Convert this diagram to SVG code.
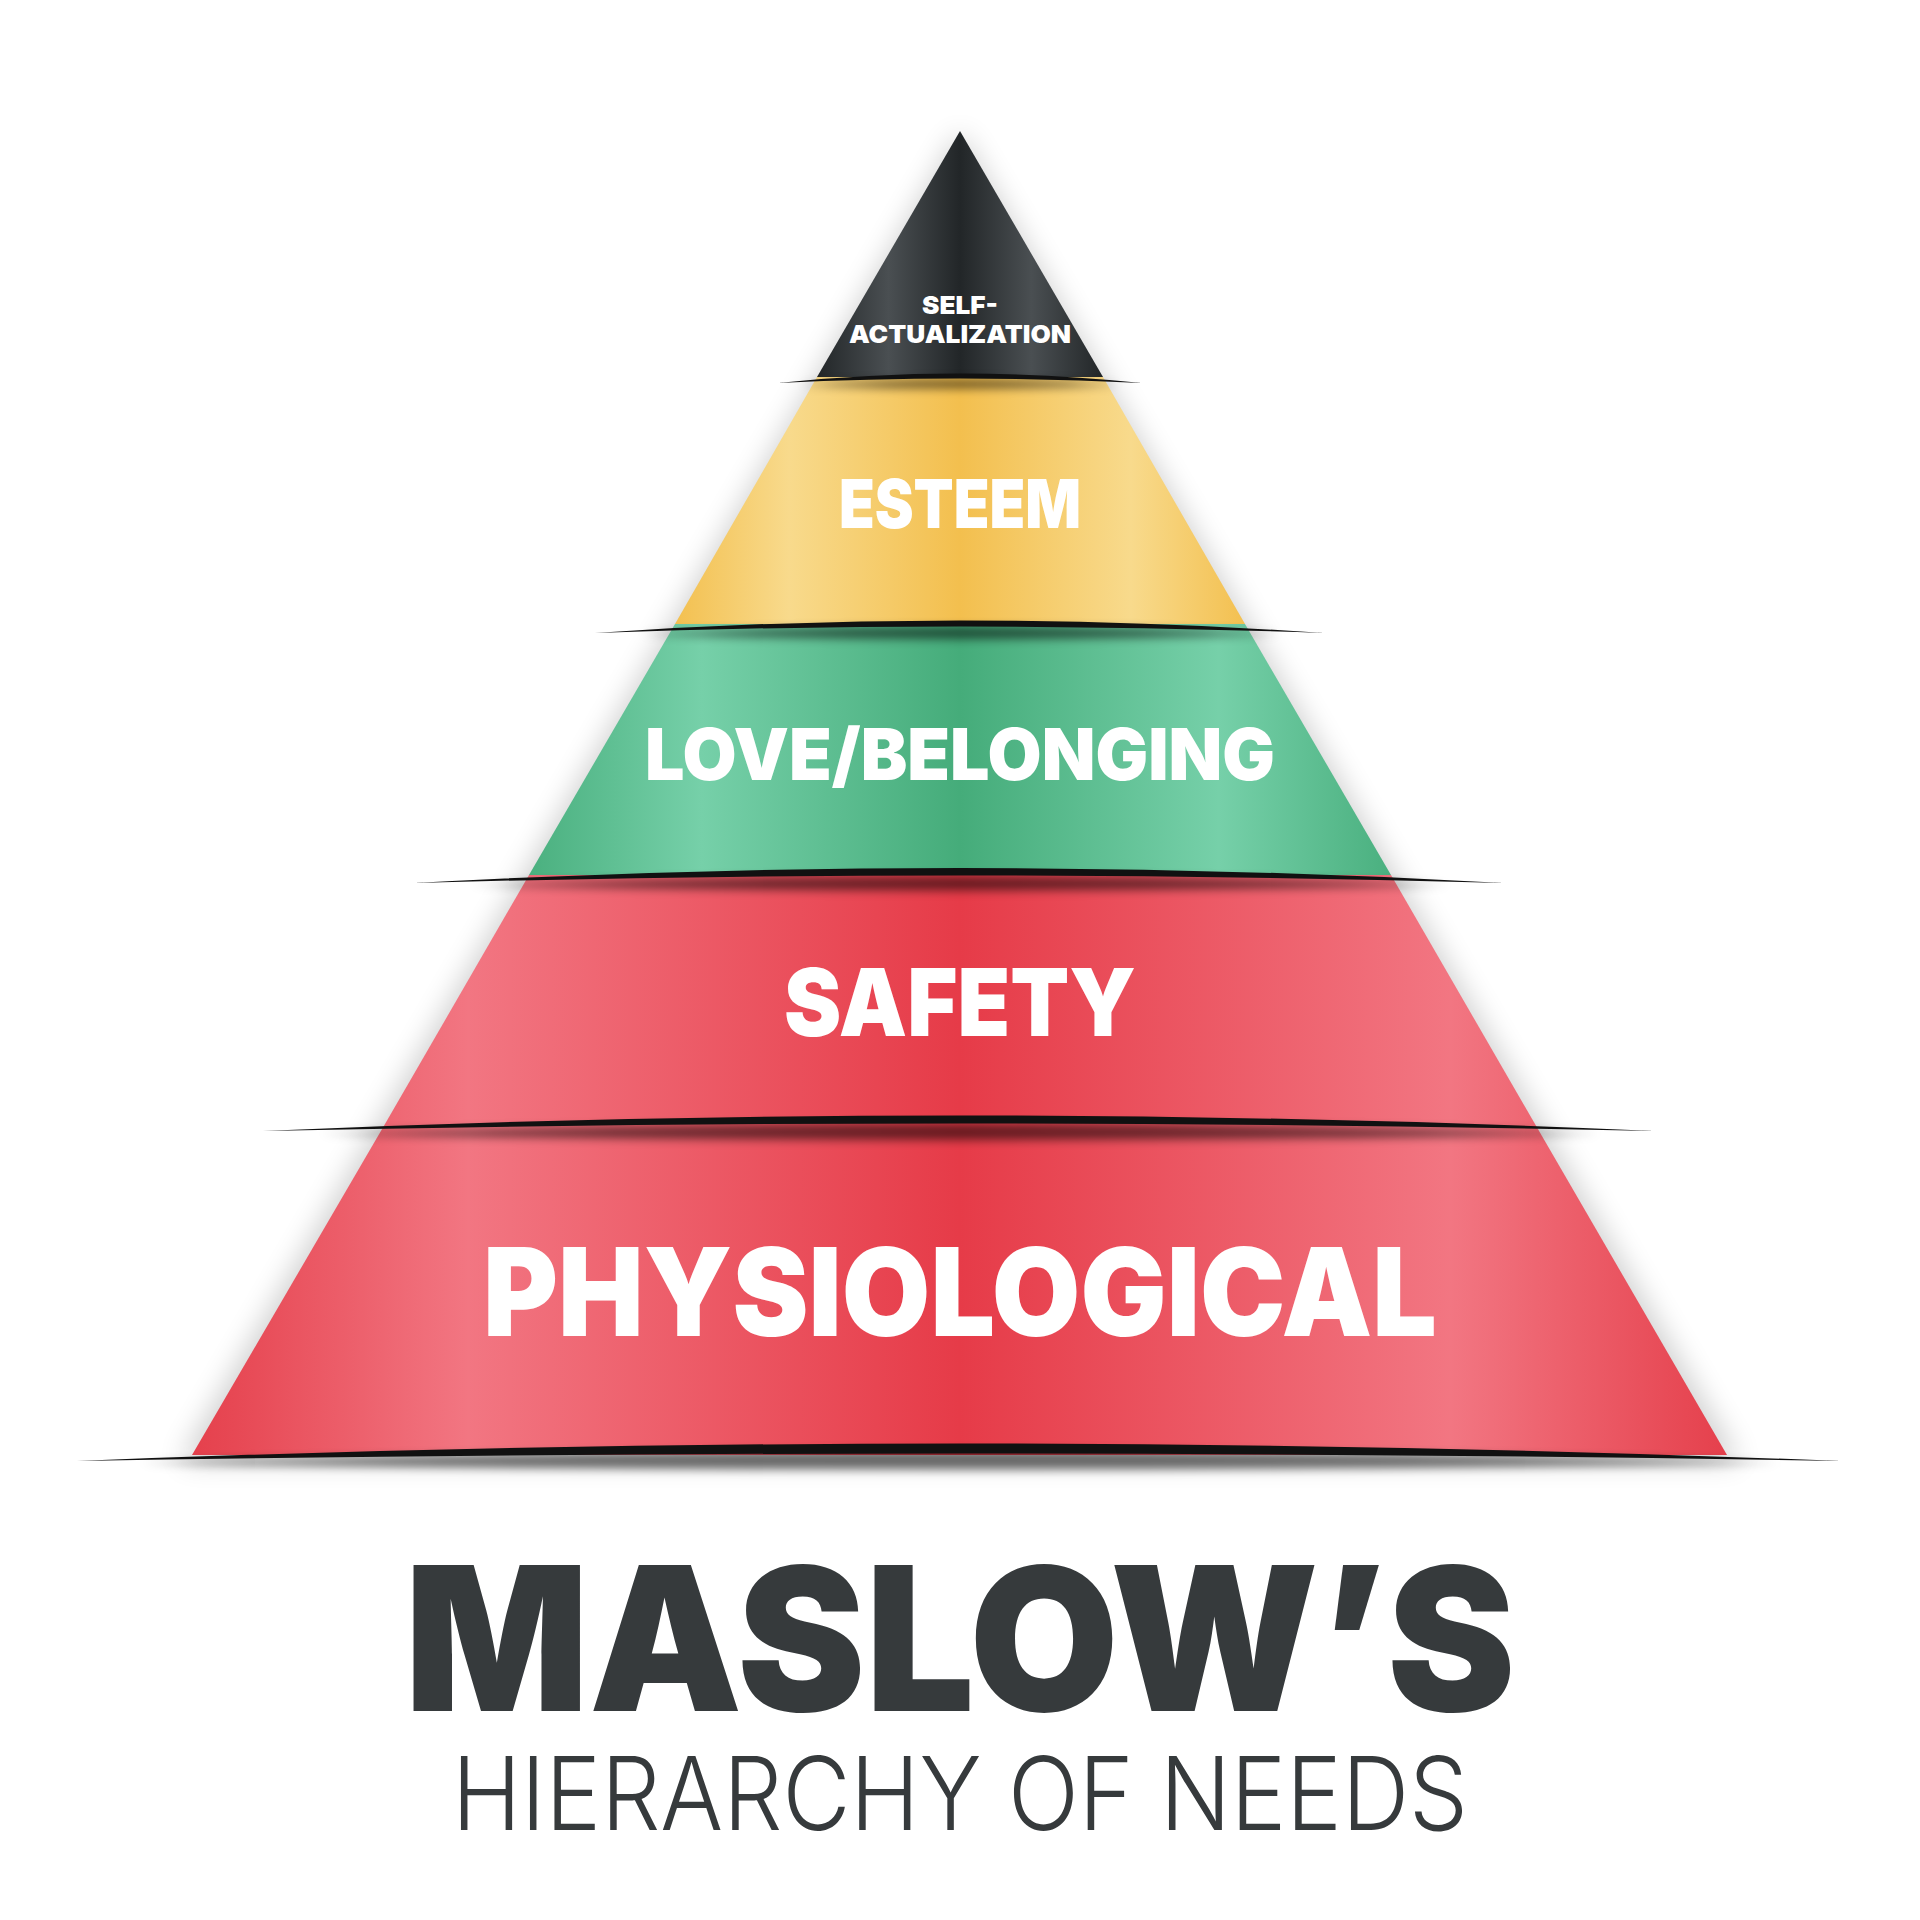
<svg xmlns="http://www.w3.org/2000/svg" width="1920" height="1920" viewBox="0 0 1920 1920">
<defs>
<linearGradient id="gk" gradientUnits="userSpaceOnUse" x1="817" y1="0" x2="1103" y2="0"><stop offset="0" stop-color="#222628"/><stop offset="0.25" stop-color="#4a4f52"/><stop offset="0.5" stop-color="#222628"/><stop offset="0.75" stop-color="#4a4f52"/><stop offset="1" stop-color="#222628"/></linearGradient>
<linearGradient id="gy" gradientUnits="userSpaceOnUse" x1="675" y1="0" x2="1245" y2="0"><stop offset="0" stop-color="#f3c050"/><stop offset="0.2" stop-color="#f8da8c"/><stop offset="0.5" stop-color="#f3bf4e"/><stop offset="0.8" stop-color="#f8da8c"/><stop offset="1" stop-color="#f3c050"/></linearGradient>
<linearGradient id="gg" gradientUnits="userSpaceOnUse" x1="529" y1="0" x2="1391" y2="0"><stop offset="0" stop-color="#4ab07f"/><stop offset="0.2" stop-color="#76d0a9"/><stop offset="0.5" stop-color="#45ac7a"/><stop offset="0.8" stop-color="#76d0a9"/><stop offset="1" stop-color="#4ab07f"/></linearGradient>
<linearGradient id="gr" gradientUnits="userSpaceOnUse" x1="192" y1="0" x2="1727" y2="0"><stop offset="0" stop-color="#e5404c"/><stop offset="0.18" stop-color="#f27682"/><stop offset="0.5" stop-color="#e63b48"/><stop offset="0.82" stop-color="#f27682"/><stop offset="1" stop-color="#e5404c"/></linearGradient>
<filter id="sh" x="-20%" y="-20%" width="140%" height="140%"><feGaussianBlur stdDeviation="14"/></filter>
<filter id="lb" x="-10%" y="-200%" width="120%" height="500%"><feGaussianBlur stdDeviation="5"/></filter>
</defs>
<style>
.t{font-family:Inter,"Liberation Sans",sans-serif;font-weight:900;fill:#fff;text-anchor:middle}
.lip{fill:#111}
.lsh{fill:#000;opacity:0.55}
</style>
<rect width="1920" height="1920" fill="#fff"/>
<path d="M960,131 L1740,1462 L180,1462 Z" fill="#000" opacity="0.18" filter="url(#sh)"/>
<g id="physiological">
<path d="M385,1124 Q960,1106 1535,1124 L1727,1455 L192,1455 Z" fill="url(#gr)"/>
<text class="t" x="960" y="1336" font-size="122" textLength="954" lengthAdjust="spacingAndGlyphs">PHYSIOLOGICAL</text>
</g>
<g id="safety">
<path d="M529,875 Q960,858 1391,875 L1535,1124 L385,1124 Z" fill="url(#gr)"/>
<text class="t" x="960" y="1036" font-size="94" textLength="352" lengthAdjust="spacingAndGlyphs">SAFETY</text>
</g>
<g id="love">
<path d="M675,624 Q960,610 1245,624 L1391,875 L529,875 Z" fill="url(#gg)"/>
<text class="t" x="960" y="780" font-size="72" textLength="630" lengthAdjust="spacingAndGlyphs">LOVE/BELONGING</text>
</g>
<g id="esteem">
<path d="M817,377 Q960,368 1103,377 L1245,624 L675,624 Z" fill="url(#gy)"/>
<text class="t" x="960" y="528" font-size="68" textLength="242" lengthAdjust="spacingAndGlyphs">ESTEEM</text>
</g>
<g id="self-actualization">
<path d="M960,131 L1103,377 L817,377 Z" fill="url(#gk)"/>
<text class="t" x="960" y="314" font-size="25" textLength="76" lengthAdjust="spacingAndGlyphs">SELF-</text>
<text class="t" x="960" y="343" font-size="25" textLength="222" lengthAdjust="spacingAndGlyphs">ACTUALIZATION</text>
</g>
<g id="lips">
<path class="lsh" filter="url(#lb)" d="M800,385 Q960,374 1120,385 Q960,392 800,385Z"/>
<path class="lip" d="M778,383 Q960,364 1142,383 Q960,374 778,383Z"/>
<path class="lsh" filter="url(#lb)" d="M640,634 Q960,620 1280,634 Q960,644 640,634Z"/>
<path class="lip" d="M595,633 Q960,608 1324,633 Q960,620 595,633Z"/>
<path class="lsh" filter="url(#lb)" d="M470,885 Q960,868 1450,885 Q960,896 470,885Z"/>
<path class="lip" d="M414,883 Q960,853 1504,883 Q960,868 414,883Z"/>
<path class="lsh" filter="url(#lb)" d="M320,1134 Q960,1114 1600,1134 Q960,1146 320,1134Z"/>
<path class="lip" d="M263,1131 Q960,1100 1655,1131 Q960,1116 263,1131Z"/>
<path class="lsh" filter="url(#lb)" d="M140,1463 Q960,1440 1780,1463 Q960,1476 140,1463Z"/>
<path class="lip" d="M77,1461 Q960,1426 1842,1461 Q960,1446 77,1461Z"/>
</g>
<g id="title">
<text x="960" y="1711" font-family="Inter,'Liberation Sans',sans-serif" font-weight="900" font-size="200" fill="#363a3c" text-anchor="middle" textLength="1111" lengthAdjust="spacingAndGlyphs">MASLOW’S</text>
<text x="960" y="1830" font-family="Inter,'Liberation Sans',sans-serif" font-weight="300" font-size="102" fill="#363a3c" text-anchor="middle" textLength="1016" lengthAdjust="spacingAndGlyphs">HIERARCHY OF NEEDS</text>
</g>
</svg>
